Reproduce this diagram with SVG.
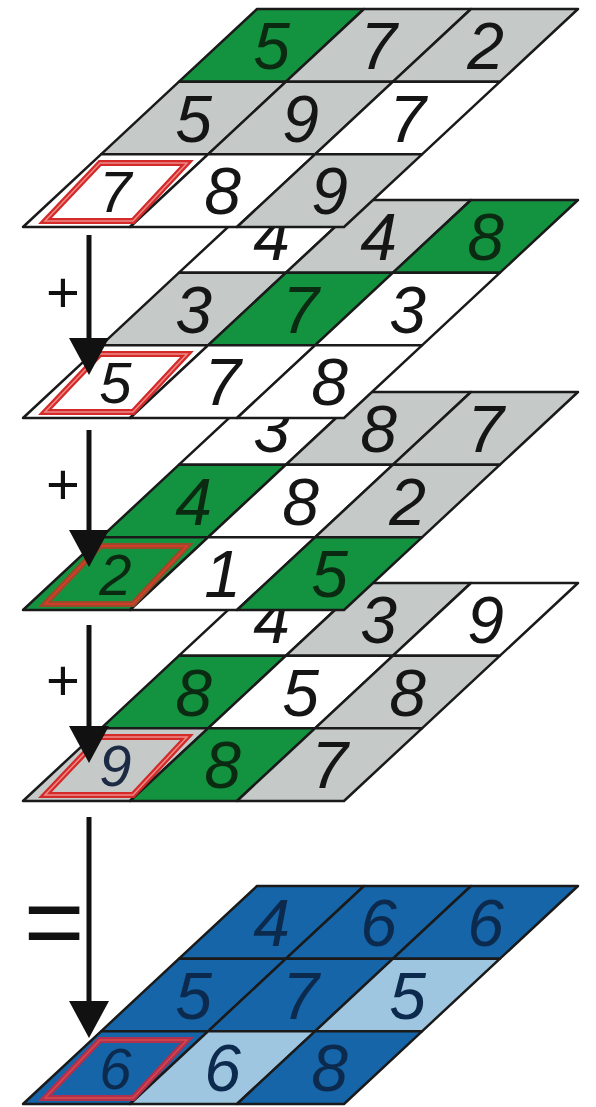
<svg xmlns="http://www.w3.org/2000/svg" width="596" height="1107" viewBox="0 0 596 1107">
<style>
.g{fill:#13923f}
.y{fill:#c5c9c8}
.w{fill:#ffffff}
.db{fill:#1565a8}
.lb{fill:#9fc6e0}
.cell{stroke:#1a1a1a;stroke-width:2.5;stroke-linejoin:round}
.d{font-family:"Liberation Sans",Arial,sans-serif;font-style:italic;font-size:66px;text-anchor:middle;fill:#151515}
.sm{font-size:58px}
.dg{fill:#0b2a12}
.dblue{fill:#0c2a4e}
.box{fill:none;stroke:#d42a2a;stroke-width:6;stroke-linejoin:miter}
.boxin{fill:none;stroke:#ee8a86;stroke-width:1.5}
.arrow{stroke:#111;stroke-width:5;fill:none}
.op{font-family:"Liberation Sans",Arial,sans-serif;fill:#111;text-anchor:middle}
</style>
<defs>
<marker id="ah" viewBox="0 0 37 40" refX="5" refY="20" markerWidth="37" markerHeight="40" markerUnits="userSpaceOnUse" orient="auto">
<path d="M0,0 L37,20 L0,40 z" fill="#111"/>
</marker>
</defs>

<!-- Layer 5 (result, blue) -->
<g id="layer5" transform="translate(0,886)">
<polygon class="cell db" points="257,0 364,0 286,72.67 179,72.67"/>
<polygon class="cell db" points="364,0 471,0 393,72.67 286,72.67"/>
<polygon class="cell db" points="471,0 578,0 500,72.67 393,72.67"/>
<polygon class="cell db" points="179,72.67 286,72.67 208,145.33 101,145.33"/>
<polygon class="cell db" points="286,72.67 393,72.67 315,145.33 208,145.33"/>
<polygon class="cell lb" points="393,72.67 500,72.67 422,145.33 315,145.33"/>
<polygon class="cell db" points="101,145.33 208,145.33 130,218 23,218"/>
<polygon class="cell lb" points="208,145.33 315,145.33 237,218 130,218"/>
<polygon class="cell db" points="315,145.33 422,145.33 344,218 237,218"/>
<polygon points="100,154 187,154 133,212 45,212" class="box" style="stroke:#b03050"/>
<polygon points="100,154 187,154 133,212 45,212" class="boxin" style="stroke:#d84848"/>
<text class="d dblue" x="271.5" y="60">4</text>
<text class="d dblue" x="378.5" y="60">6</text>
<text class="d dblue" x="485.5" y="60">6</text>
<text class="d dblue" x="193.5" y="132.6">5</text>
<text class="d dblue" x="300.5" y="132.6">7</text>
<text class="d dblue" x="407.5" y="132.6">5</text>
<text class="d sm dblue" x="115.5" y="202.5">6</text>
<text class="d dblue" x="222.5" y="205.3">6</text>
<text class="d dblue" x="329.5" y="205.3">8</text>
</g>

<!-- Layer 4 -->
<g id="layer4" transform="translate(0,583)">
<polygon class="cell w" points="257,0 364,0 286,72.67 179,72.67"/>
<polygon class="cell y" points="364,0 471,0 393,72.67 286,72.67"/>
<polygon class="cell w" points="471,0 578,0 500,72.67 393,72.67"/>
<polygon class="cell g" points="179,72.67 286,72.67 208,145.33 101,145.33"/>
<polygon class="cell w" points="286,72.67 393,72.67 315,145.33 208,145.33"/>
<polygon class="cell y" points="393,72.67 500,72.67 422,145.33 315,145.33"/>
<polygon class="cell y" points="101,145.33 208,145.33 130,218 23,218"/>
<polygon class="cell g" points="208,145.33 315,145.33 237,218 130,218"/>
<polygon class="cell y" points="315,145.33 422,145.33 344,218 237,218"/>
<polygon points="100,154 187,154 133,212 45,212" class="box"/>
<polygon points="100,154 187,154 133,212 45,212" class="boxin"/>
<text class="d" x="271.5" y="60">4</text>
<text class="d" x="378.5" y="60">3</text>
<text class="d" x="485.5" y="60">9</text>
<text class="d dg" x="193.5" y="132.6">8</text>
<text class="d" x="300.5" y="132.6">5</text>
<text class="d" x="407.5" y="132.6">8</text>
<text class="d sm" x="115.5" y="202.5" style="fill:#1c2a44">9</text>
<text class="d dg" x="222.5" y="205.3">8</text>
<text class="d" x="329.5" y="205.3">7</text>
</g>

<!-- Layer 3 -->
<g id="layer3" transform="translate(0,392)">
<polygon class="cell w" points="257,0 364,0 286,72.67 179,72.67"/>
<polygon class="cell y" points="364,0 471,0 393,72.67 286,72.67"/>
<polygon class="cell y" points="471,0 578,0 500,72.67 393,72.67"/>
<polygon class="cell g" points="179,72.67 286,72.67 208,145.33 101,145.33"/>
<polygon class="cell w" points="286,72.67 393,72.67 315,145.33 208,145.33"/>
<polygon class="cell y" points="393,72.67 500,72.67 422,145.33 315,145.33"/>
<polygon class="cell g" points="101,145.33 208,145.33 130,218 23,218"/>
<polygon class="cell w" points="208,145.33 315,145.33 237,218 130,218"/>
<polygon class="cell g" points="315,145.33 422,145.33 344,218 237,218"/>
<polygon points="100,154 187,154 133,212 45,212" class="box" style="stroke:#9a4a28"/>
<polygon points="100,154 187,154 133,212 45,212" class="boxin" style="stroke:#e03a2a"/>
<text class="d" x="271.5" y="60">3</text>
<text class="d" x="378.5" y="60">8</text>
<text class="d" x="485.5" y="60">7</text>
<text class="d dg" x="193.5" y="132.6">4</text>
<text class="d" x="300.5" y="132.6">8</text>
<text class="d" x="407.5" y="132.6">2</text>
<text class="d sm dg" x="115.5" y="202.5">2</text>
<text class="d" x="222.5" y="205.3">1</text>
<text class="d dg" x="329.5" y="205.3">5</text>
</g>

<!-- Layer 2 -->
<g id="layer2" transform="translate(0,200)">
<polygon class="cell w" points="257,0 364,0 286,72.67 179,72.67"/>
<polygon class="cell y" points="364,0 471,0 393,72.67 286,72.67"/>
<polygon class="cell g" points="471,0 578,0 500,72.67 393,72.67"/>
<polygon class="cell y" points="179,72.67 286,72.67 208,145.33 101,145.33"/>
<polygon class="cell g" points="286,72.67 393,72.67 315,145.33 208,145.33"/>
<polygon class="cell w" points="393,72.67 500,72.67 422,145.33 315,145.33"/>
<polygon class="cell w" points="101,145.33 208,145.33 130,218 23,218"/>
<polygon class="cell w" points="208,145.33 315,145.33 237,218 130,218"/>
<polygon class="cell w" points="315,145.33 422,145.33 344,218 237,218"/>
<polygon points="100,154 187,154 133,212 45,212" class="box"/>
<polygon points="100,154 187,154 133,212 45,212" class="boxin"/>
<text class="d" x="271.5" y="60">4</text>
<text class="d" x="378.5" y="60">4</text>
<text class="d dg" x="485.5" y="60">8</text>
<text class="d" x="193.5" y="132.6">3</text>
<text class="d dg" x="300.5" y="132.6">7</text>
<text class="d" x="407.5" y="132.6">3</text>
<text class="d sm" x="115.5" y="202.5">5</text>
<text class="d" x="222.5" y="205.3">7</text>
<text class="d" x="329.5" y="205.3">8</text>
</g>

<!-- Layer 1 -->
<g id="layer1" transform="translate(0,9)">
<polygon class="cell g" points="257,0 364,0 286,72.67 179,72.67"/>
<polygon class="cell y" points="364,0 471,0 393,72.67 286,72.67"/>
<polygon class="cell y" points="471,0 578,0 500,72.67 393,72.67"/>
<polygon class="cell y" points="179,72.67 286,72.67 208,145.33 101,145.33"/>
<polygon class="cell y" points="286,72.67 393,72.67 315,145.33 208,145.33"/>
<polygon class="cell w" points="393,72.67 500,72.67 422,145.33 315,145.33"/>
<polygon class="cell w" points="101,145.33 208,145.33 130,218 23,218"/>
<polygon class="cell w" points="208,145.33 315,145.33 237,218 130,218"/>
<polygon class="cell y" points="315,145.33 422,145.33 344,218 237,218"/>
<polygon points="100,154 187,154 133,212 45,212" class="box"/>
<polygon points="100,154 187,154 133,212 45,212" class="boxin"/>
<text class="d dg" x="271.5" y="60">5</text>
<text class="d" x="378.5" y="60">7</text>
<text class="d" x="485.5" y="60">2</text>
<text class="d" x="193.5" y="132.6">5</text>
<text class="d" x="300.5" y="132.6">9</text>
<text class="d" x="407.5" y="132.6">7</text>
<text class="d sm" x="115.5" y="202.5">7</text>
<text class="d" x="222.5" y="205.3">8</text>
<text class="d" x="329.5" y="205.3">9</text>
</g>

<!-- Connectors -->
<g id="connectors">
<path class="arrow" d="M89,235 L89,343" marker-end="url(#ah)"/>
<path class="arrow" d="M89,430 L89,535" marker-end="url(#ah)"/>
<path class="arrow" d="M89,625 L89,731" marker-end="url(#ah)"/>
<path class="arrow" d="M89,817 L89,1006" marker-end="url(#ah)"/>
</g>

<!-- Operators -->
<g id="operators">
<text class="op" x="63" y="312" font-size="58">+</text>
<text class="op" x="63" y="504" font-size="58">+</text>
<text class="op" x="63" y="700" font-size="58">+</text>
<text class="op" x="54" y="957" font-size="104">=</text>
</g>
</svg>
